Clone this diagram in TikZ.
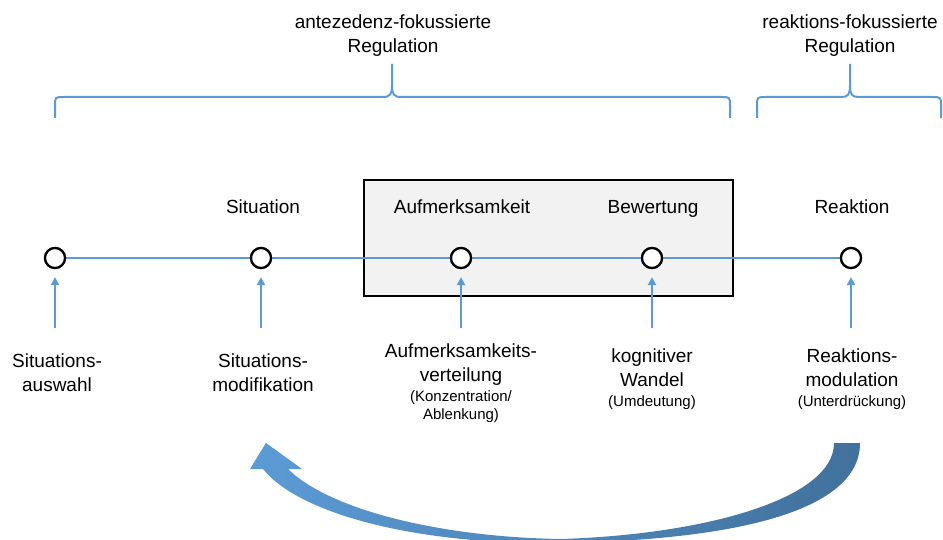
\documentclass[tikz,border=0pt]{standalone}
\usepackage{fontspec}
\setmainfont{Liberation Sans}
\usetikzlibrary{arrows.meta}
\definecolor{lblue}{HTML}{5B9BD5}
\definecolor{dblue}{HTML}{41719C}
\definecolor{boxgray}{HTML}{F2F2F2}
\begin{document}
\begin{tikzpicture}[x=1pt,y=-1pt,
  stage/.style={circle,draw=black,line width=2.2pt,fill=white,minimum size=20pt,inner sep=0pt},
  lbl/.style={font=\fontsize{19}{24}\selectfont,inner sep=0pt,align=center,anchor=base},
  slbl/.style={font=\fontsize{15}{17.5}\selectfont,inner sep=0pt,align=center,anchor=base},
  tline/.style={line width=2.5pt,draw=lblue},
  uparr/.style={draw=lblue,line width=2pt,-{Triangle[width=8pt,length=8pt]},shorten >=8pt},
  bracepath/.style={draw=lblue,line width=2pt},
  stagebox/.style={draw=black,fill=boxgray,line width=2pt,minimum width=369pt,minimum height=116pt,inner sep=0pt}]
\useasboundingbox (0,0) rectangle (943,540);
% braces
\draw[bracepath] (55,118) -- (55,106) .. controls (55,97) .. (64,97) -- (383,97)
  .. controls (390,97) and (392,94) .. (392,86) -- (392,64);
\draw[bracepath] (392,86) .. controls (392,94) and (394,97) .. (401,97) -- (721,97)
  .. controls (730,97) .. (730,106) -- (730,118);
\draw[bracepath] (757,118) -- (757,106) .. controls (757,97) .. (766,97) -- (842,97)
  .. controls (848,97) and (850,94) .. (850,86) -- (850,64);
\draw[bracepath] (850,86) .. controls (850,94) and (852,97) .. (858,97) -- (932,97)
  .. controls (941,97) .. (941,106) -- (941,118);
\node[lbl] (ta) at (393,53) {antezedenz-fokussierte\\Regulation};
\node[lbl] (tr) at (850,53) {reaktions-fokussierte\\Regulation};
% box
\node[stagebox] (box) at (548.5,238) {};
% stages
\node[stage] (c1) at (55,258) {};
\node[stage] (c2) at (261,258) {};
\node[stage] (c3) at (461,258) {};
\node[stage] (c4) at (652,258) {};
\node[stage] (c5) at (851,258) {};
\draw[tline] (c1) -- (c2) -- (c3) -- (c4) -- (c5);
\foreach \n in {c1,c2,c3,c4,c5}{\node[stage] at (\n) {};}
% stage titles
\node[lbl] (s2) at (263,214) {Situation};
\node[lbl] (s3) at (462,214) {Aufmerksamkeit};
\node[lbl] (s4) at (653,214) {Bewertung};
\node[lbl] (s5) at (852,214) {Reaktion};
% arrows
\coordinate (a1) at (55,328);
\coordinate (a2) at (261,328);
\coordinate (a3) at (461,328);
\coordinate (a4) at (652,328);
\coordinate (a5) at (851,328);
\draw[uparr] (a1) -- (c1.south);
\draw[uparr] (a2) -- (c2.south);
\draw[uparr] (a3) -- (c3.south);
\draw[uparr] (a4) -- (c4.south);
\draw[uparr] (a5) -- (c5.south);
% labels
\node[lbl] (l1) at (57,391) {Situations-\\auswahl};
\node[lbl] (l2) at (263,391) {Situations-\\modifikation};
\node[lbl] (l3) at (461,381) {Aufmerksamkeits-\\verteilung};
\node[slbl] (l3s) at (461,419) {(Konzentration/\\Ablenkung)};
\node[lbl] (l4) at (652,386) {kognitiver\\Wandel};
\node[slbl] (l4s) at (652,406) {(Umdeutung)};
\node[lbl] (l5) at (852,386) {Reaktions-\\modulation};
\node[slbl] (l5s) at (852,406) {(Unterdrückung)};
% curved arrow
\begin{scope}
\clip (0,0) rectangle (943,540);
\shade[left color=lblue, right color=dblue]
  (860,443) .. controls (860,510) and (740,540) .. (560,543)
  .. controls (420,545) and (300,515) .. (263,469)
  -- (250,469) -- (266,443) -- (302,469) -- (288,469)
  .. controls (330,510) and (440,537) .. (560,539)
  .. controls (700,535) and (834,500) .. (834,443) -- cycle;
\end{scope}
\end{tikzpicture}
\end{document}
